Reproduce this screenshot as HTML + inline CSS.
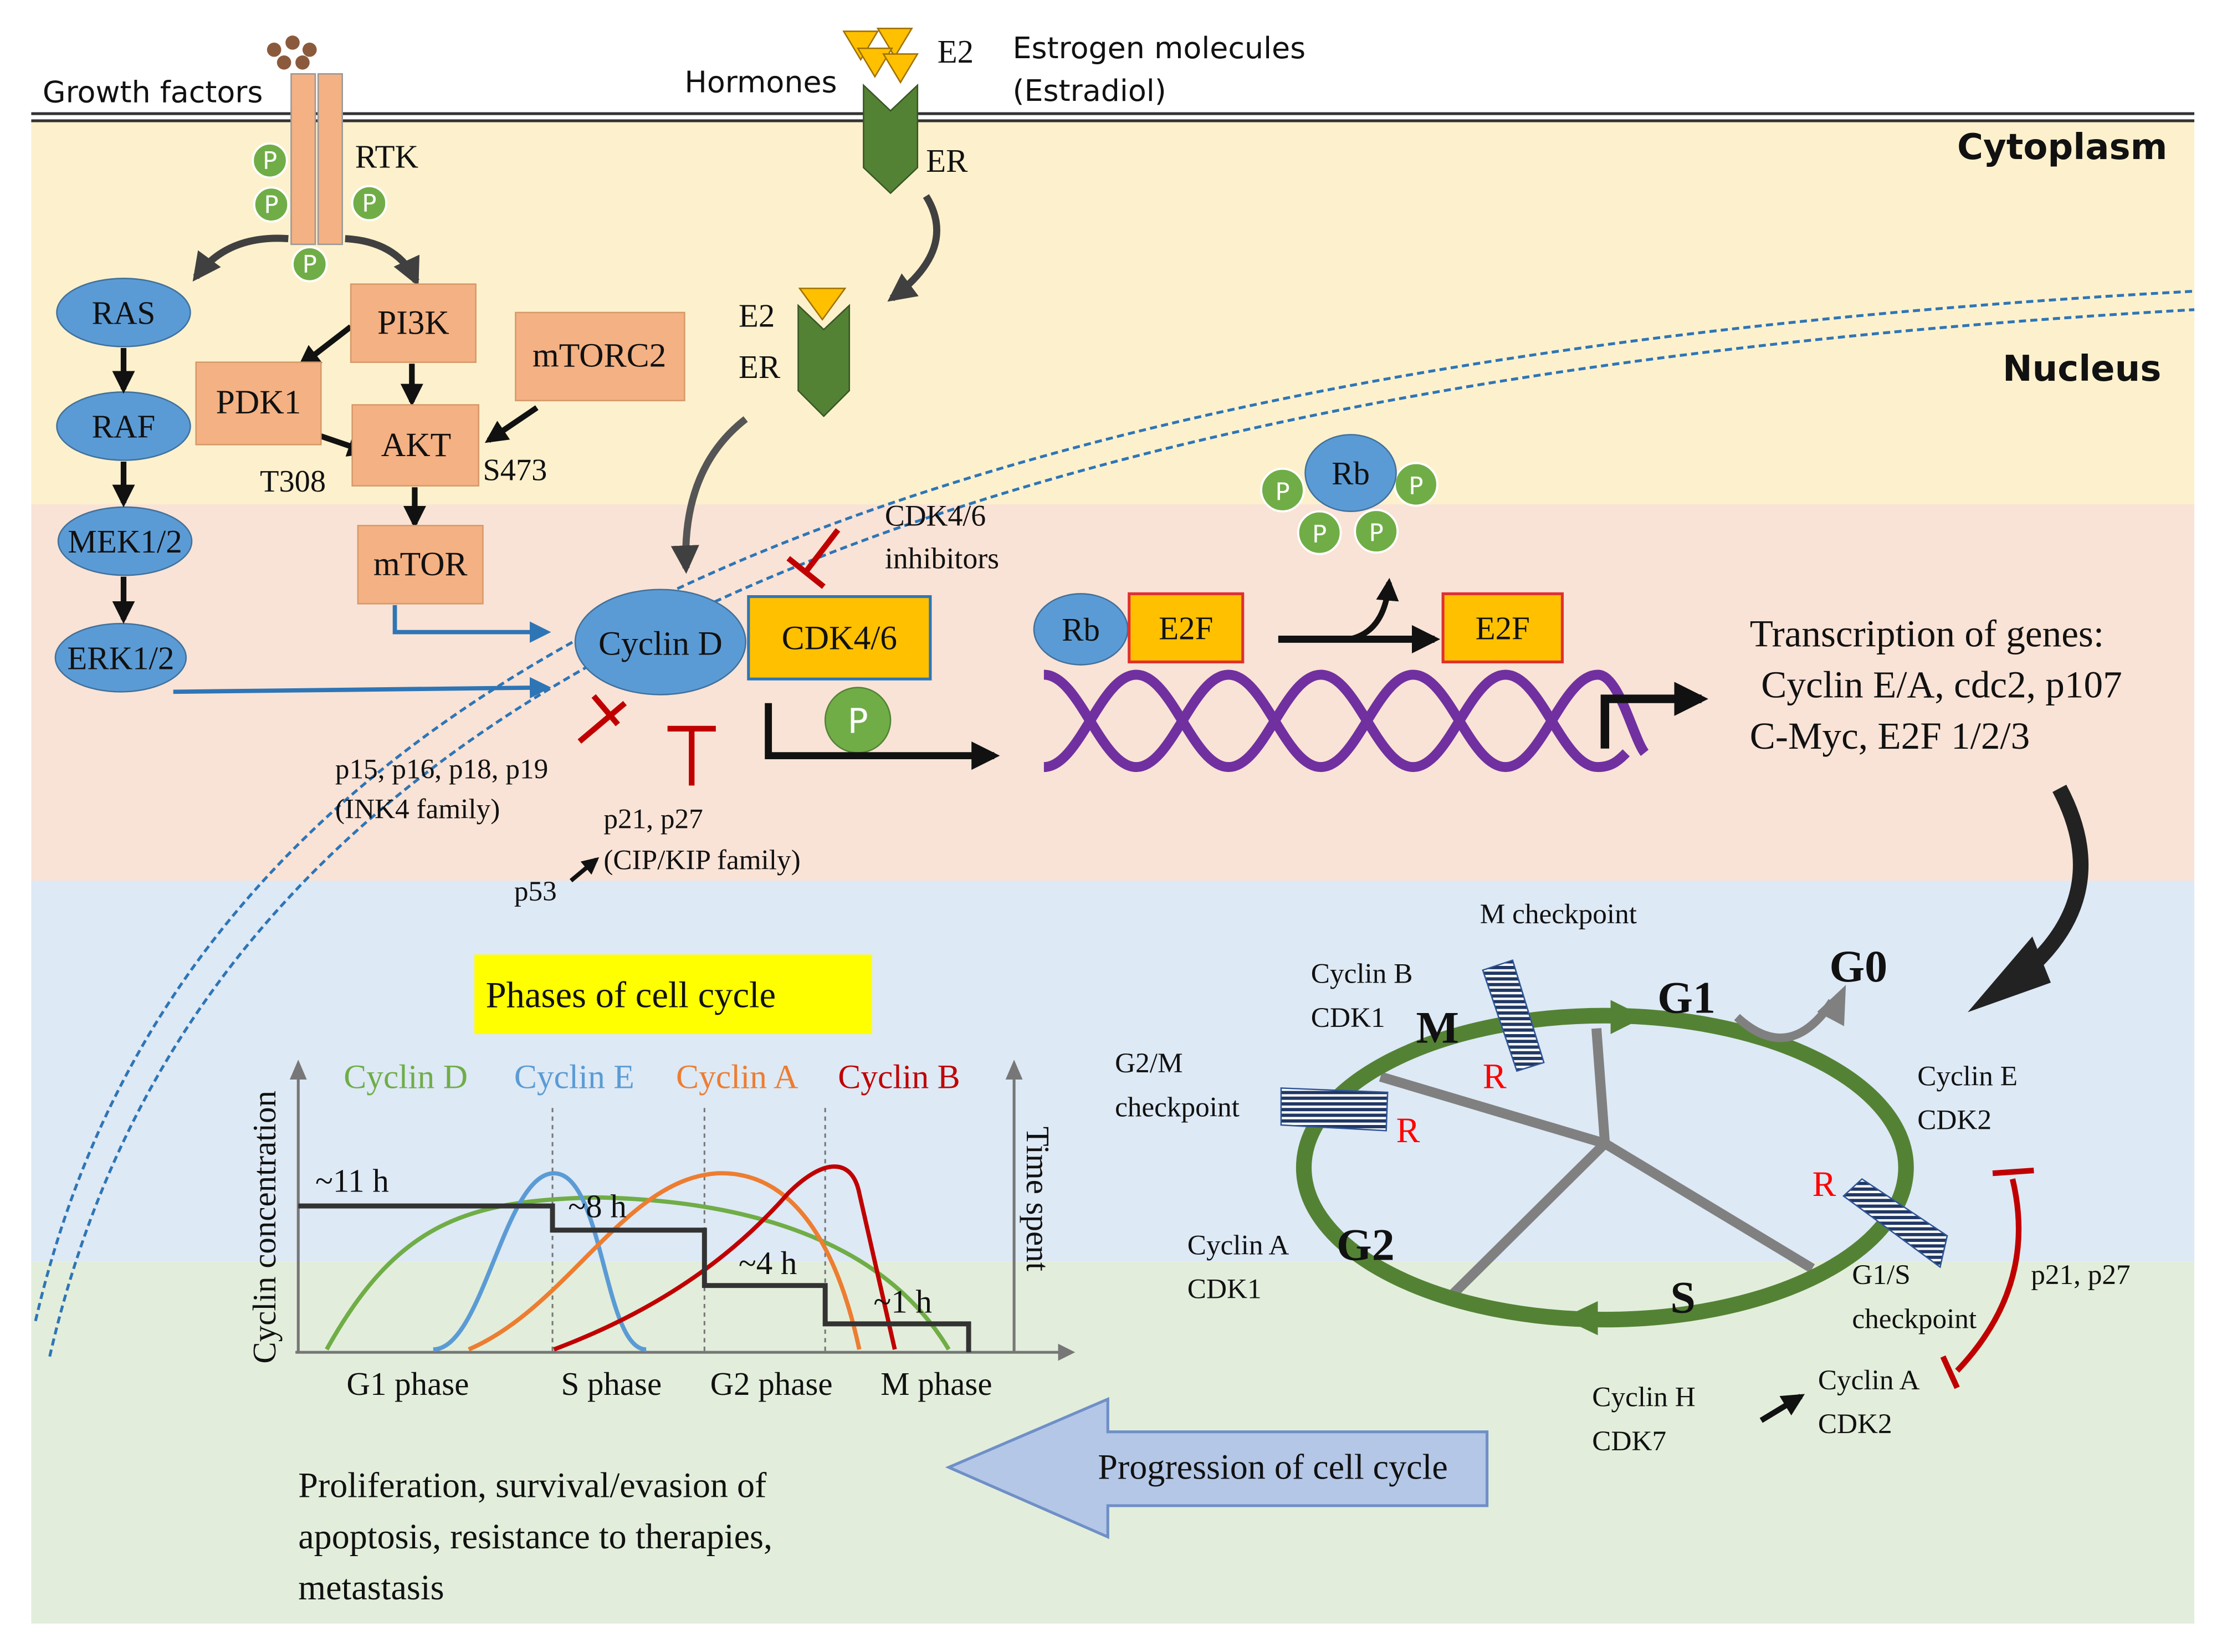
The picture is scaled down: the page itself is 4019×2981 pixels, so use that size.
<!DOCTYPE html>
<html><head><meta charset="utf-8"><style>
html,body{margin:0;padding:0;background:#fff}
svg{display:block}
.s{font-family:"Liberation Serif",serif;fill:#111}
.a{font-family:"DejaVu Sans","Liberation Sans",sans-serif;fill:#111}
</style></head><body>
<svg width="4019" height="2981" viewBox="0 0 1568 1163" xmlns="http://www.w3.org/2000/svg">
<defs>
<marker id="ab" viewBox="0 0 10 10" refX="8" refY="5" markerWidth="4" markerHeight="4" orient="auto"><path d="M0,0L10,5L0,10z" fill="#111"/></marker>
<marker id="ag" viewBox="0 0 10 10" refX="8" refY="5" markerWidth="4" markerHeight="4" orient="auto"><path d="M0,0L10,5L0,10z" fill="#404040"/></marker>
<marker id="ablu" viewBox="0 0 10 10" refX="8" refY="5" markerWidth="5" markerHeight="5" orient="auto"><path d="M0,0L10,5L0,10z" fill="#2e75b6"/></marker>
<pattern id="hat" width="6" height="4" patternUnits="userSpaceOnUse"><rect width="6" height="4" fill="#fff"/><rect width="6" height="2.3" fill="#203864"/></pattern>
</defs>
<rect x="22" y="86" width="1523" height="270" fill="#fdf1cd"/>
<rect x="22" y="355" width="1523" height="266" fill="#f9e3d6"/>
<rect x="22" y="620" width="1523" height="268" fill="#dde9f5"/>
<rect x="22" y="888" width="1523" height="255" fill="#e2eedb"/>
<line x1="22" y1="80" x2="1545" y2="80" stroke="#333" stroke-width="2"/>
<line x1="22" y1="85" x2="1545" y2="85" stroke="#333" stroke-width="2"/>
<!-- nucleus dashed -->
<path d="M25,930 C120,520 520,260 1545,205" fill="none" stroke="#2e75b6" stroke-width="2" stroke-dasharray="5,3"/>
<path d="M35,955 C130,540 530,275 1545,218" fill="none" stroke="#2e75b6" stroke-width="2" stroke-dasharray="5,3"/>
<!-- growth factors -->
<g fill="#8b5a3c"><circle cx="193" cy="35" r="5"/><circle cx="206" cy="30" r="5"/><circle cx="218" cy="35" r="5"/><circle cx="200" cy="44" r="5"/><circle cx="213" cy="44" r="5"/></g>
<text x="30" y="72" class="a" font-size="21">Growth factors</text>
<rect x="205" y="52" width="17" height="120" fill="#f4b183" stroke="#999"/>
<rect x="224" y="52" width="17" height="120" fill="#f4b183" stroke="#999"/>
<text x="250" y="118" class="s" font-size="23">RTK</text>
<g fill="#70ad47" stroke="#fff" stroke-width="1.5"><circle cx="190" cy="113" r="12"/><circle cx="191" cy="144" r="12"/><circle cx="260" cy="143" r="12"/><circle cx="218" cy="186" r="12"/><circle cx="903" cy="345" r="15"/><circle cx="997" cy="341" r="15"/><circle cx="929" cy="375" r="15"/><circle cx="969" cy="374" r="15"/></g>
<g class="a" font-size="17" fill="#fff" text-anchor="middle" style="fill:#fff"><text x="190" y="119" style="fill:#fff">P</text><text x="191" y="150" style="fill:#fff">P</text><text x="260" y="149" style="fill:#fff">P</text><text x="218" y="192" style="fill:#fff">P</text><text x="903" y="352" style="fill:#fff">P</text><text x="997" y="348" style="fill:#fff">P</text><text x="929" y="382" style="fill:#fff">P</text><text x="969" y="381" style="fill:#fff">P</text></g>
<path d="M203,168 Q160,165 138,195" fill="none" stroke="#404040" stroke-width="5" marker-end="url(#ag)"/>
<path d="M243,168 Q280,170 293,198" fill="none" stroke="#404040" stroke-width="5" marker-end="url(#ag)"/>
<!-- MAPK -->
<g fill="#5b9bd5" stroke="#41719c"><ellipse cx="87" cy="220" rx="47" ry="24"/><ellipse cx="87" cy="300" rx="47" ry="24"/><ellipse cx="88" cy="381" rx="47" ry="24"/><ellipse cx="85" cy="463" rx="46" ry="24"/></g>
<g class="s" font-size="23" text-anchor="middle"><text x="87" y="228">RAS</text><text x="87" y="308">RAF</text><text x="88" y="389">MEK1/2</text><text x="85" y="471">ERK1/2</text></g>
<g stroke="#111" stroke-width="4" marker-end="url(#ab)"><line x1="87" y1="245" x2="87" y2="274"/><line x1="87" y1="325" x2="87" y2="354"/><line x1="87" y1="406" x2="87" y2="436"/><line x1="290" y1="256" x2="290" y2="283"/><line x1="292" y1="343" x2="292" y2="369"/><line x1="247" y1="230" x2="212" y2="257"/><line x1="220" y1="305" x2="258" y2="318"/><line x1="378" y1="287" x2="344" y2="310"/></g>
<g fill="#f4b183" stroke="#d69a6a"><rect x="247" y="200" width="88" height="55"/><rect x="138" y="255" width="88" height="58"/><rect x="248" y="285" width="89" height="57"/><rect x="363" y="220" width="119" height="62"/><rect x="252" y="370" width="88" height="55"/></g>
<g class="s" font-size="24" text-anchor="middle"><text x="291" y="235">PI3K</text><text x="182" y="291">PDK1</text><text x="293" y="321">AKT</text><text x="422" y="258">mTORC2</text><text x="296" y="405">mTOR</text></g>
<text x="183" y="346" class="s" font-size="22">T308</text><text x="340" y="338" class="s" font-size="22">S473</text>
<!-- hormones -->
<text x="482" y="65" class="a" font-size="21">Hormones</text>
<g fill="#ffc000" stroke="#a07000" stroke-width="1"><path d="M594,22h24l-12,20z"/><path d="M618,20h24l-12,20z"/><path d="M604,34h24l-12,20z"/><path d="M622,38h24l-12,20z"/><path d="M563,203h32l-16,22z"/></g>
<text x="660" y="44" class="s" font-size="23">E2</text>
<text x="713" y="41" class="a" font-size="21">Estrogen molecules</text><text x="713" y="71" class="a" font-size="21">(Estradiol)</text>
<path d="M608,60 L627,78 L646,60 L646,118 L627,136 L608,118z" fill="#548235" stroke="#385723"/>
<path d="M562,215 L580,232 L598,215 L598,275 L580,293 L562,275z" fill="#548235" stroke="#385723"/>
<text x="652" y="121" class="s" font-size="23">ER</text>
<text x="520" y="230" class="s" font-size="23">E2</text><text x="520" y="266" class="s" font-size="23">ER</text>
<path d="M652,138 Q675,175 628,210" fill="none" stroke="#404040" stroke-width="5" marker-end="url(#ag)"/>
<path d="M525,295 Q480,330 483,400" fill="none" stroke="#555" stroke-width="5" marker-end="url(#ag)"/>
<text x="1378" y="112" class="a" font-size="25" font-weight="bold">Cytoplasm</text>
<text x="1410" y="268" class="a" font-size="25" font-weight="bold">Nucleus</text>
<!-- Cyclin D -->
<ellipse cx="465" cy="452" rx="60" ry="37" fill="#5b9bd5" stroke="#41719c"/>
<text x="465" y="461" class="s" font-size="24" text-anchor="middle">Cyclin D</text>
<rect x="527" y="420" width="128" height="58" fill="#ffc000" stroke="#2e75b6" stroke-width="2"/>
<text x="591" y="457" class="s" font-size="24" text-anchor="middle">CDK4/6</text>
<text x="623" y="370" class="s" font-size="21">CDK4/6</text><text x="623" y="400" class="s" font-size="21">inhibitors</text>
<g stroke="#c00000" stroke-width="4" fill="none"><line x1="590" y1="373" x2="567" y2="403"/><line x1="555" y1="393" x2="580" y2="413"/><line x1="440" y1="495" x2="408" y2="522"/><line x1="418" y1="490" x2="435" y2="510"/><line x1="487" y1="515" x2="487" y2="553"/><line x1="470" y1="513" x2="504" y2="513"/></g>
<text x="236" y="548" class="s" font-size="20">p15, p16, p18, p19</text><text x="236" y="576" class="s" font-size="20">(INK4 family)</text>
<text x="425" y="583" class="s" font-size="20">p21, p27</text><text x="425" y="612" class="s" font-size="20">(CIP/KIP family)</text>
<text x="362" y="634" class="s" font-size="20">p53</text>
<line x1="402" y1="620" x2="420" y2="605" stroke="#111" stroke-width="3" marker-end="url(#ab)"/>
<path d="M278,426 V445 H385" fill="none" stroke="#2e75b6" stroke-width="3" marker-end="url(#ablu)"/>
<line x1="122" y1="487" x2="385" y2="484" stroke="#2e75b6" stroke-width="3" marker-end="url(#ablu)"/>
<circle cx="604" cy="507" r="23" fill="#70ad47" stroke="#548235"/>
<text x="604" y="516" class="a" font-size="24" text-anchor="middle" style="fill:#fff">P</text>
<path d="M541,495 V532 H700" fill="none" stroke="#111" stroke-width="5" marker-end="url(#ab)"/>
<!-- Rb -->
<ellipse cx="761" cy="443" rx="33" ry="25" fill="#5b9bd5" stroke="#41719c"/>
<text x="761" y="451" class="s" font-size="23" text-anchor="middle">Rb</text>
<rect x="795" y="418" width="80" height="48" fill="#ffc000" stroke="#e03030" stroke-width="2"/>
<text x="835" y="450" class="s" font-size="23" text-anchor="middle">E2F</text>
<rect x="1016" y="418" width="84" height="48" fill="#ffc000" stroke="#e03030" stroke-width="2"/>
<text x="1058" y="450" class="s" font-size="23" text-anchor="middle">E2F</text>
<ellipse cx="951" cy="333" rx="32" ry="27" fill="#5b9bd5" stroke="#41719c"/>
<text x="951" y="341" class="s" font-size="23" text-anchor="middle">Rb</text>
<line x1="900" y1="450" x2="1010" y2="450" stroke="#111" stroke-width="5" marker-end="url(#ab)"/>
<path d="M950,450 Q975,445 978,410" fill="none" stroke="#111" stroke-width="4" marker-end="url(#ab)"/>
<!-- DNA -->
<path d="M735,475 C760,475 775,540 800,540 C825,540 840,475 865,475 C890,475 905,540 930,540 C955,540 970,475 995,475 C1020,475 1035,540 1060,540 C1085,540 1100,475 1125,475 C1140,475 1150,520 1158,530" fill="none" stroke="#7030a0" stroke-width="7"/>
<path d="M735,540 C760,540 775,475 800,475 C825,475 840,540 865,540 C890,540 905,475 930,475 C955,475 970,540 995,540 C1020,540 1035,475 1060,475 C1085,475 1100,540 1125,540 C1135,540 1140,535 1145,530" fill="none" stroke="#7030a0" stroke-width="7"/>
<path d="M1130,527 V492 H1198" fill="none" stroke="#111" stroke-width="6" marker-end="url(#ab)"/>
<text x="1232" y="455" class="s" font-size="27">Transcription of genes:</text>
<text x="1240" y="491" class="s" font-size="27">Cyclin E/A, cdc2, p107</text>
<text x="1232" y="527" class="s" font-size="27">C-Myc, E2F 1/2/3</text>
<path d="M1450,555 Q1495,640 1405,700" fill="none" stroke="#222" stroke-width="11"/>
<path d="M1395,706 L1430,665 L1440,690z" fill="#222" stroke="#222" stroke-width="6"/>
<!-- cell cycle -->
<g stroke="#808080" stroke-width="7"><line x1="1130" y1="805" x2="1124" y2="724"/><line x1="1130" y1="805" x2="972" y2="758"/><line x1="1130" y1="805" x2="1022" y2="912"/><line x1="1130" y1="805" x2="1276" y2="893"/></g>
<ellipse cx="1130" cy="822" rx="212" ry="107" fill="none" stroke="#548235" stroke-width="11"/>
<path d="M1134,704 L1158,716 L1134,728z" fill="#548235"/>
<path d="M1125,916 L1100,928 L1125,940z" fill="#548235"/>
<path d="M1223,716 Q1260,750 1290,705" fill="none" stroke="#808080" stroke-width="6"/>
<path d="M1282,712 L1298,697 L1297,720z" fill="#808080" stroke="#808080" stroke-width="3"/>
<g class="s" font-weight="bold" font-size="32"><text x="1167" y="713">G1</text><text x="1288" y="691">G0</text><text x="997" y="734">M</text><text x="941" y="887">G2</text><text x="1176" y="924">S</text></g>
<g fill="url(#hat)" stroke="#2e5597" stroke-width="1"><path d="M1044,683 L1065,676 L1087,748 L1068,754z"/><path d="M902,766 L977,769 L976,796 L902,792z"/><path d="M1298,842 L1311,830 L1371,870 L1366,892z"/></g>
<g class="s" font-size="25" fill="#ff0000" style="fill:#f00"><text x="1044" y="766" style="fill:#f00">R</text><text x="983" y="804" style="fill:#f00">R</text><text x="1276" y="842" style="fill:#f00">R</text></g>
<g class="s" font-size="20"><text x="1042" y="650">M checkpoint</text><text x="923" y="692">Cyclin B</text><text x="923" y="723">CDK1</text><text x="785" y="755">G2/M</text><text x="785" y="786">checkpoint</text><text x="1350" y="764">Cyclin E</text><text x="1350" y="795">CDK2</text><text x="836" y="883">Cyclin A</text><text x="836" y="914">CDK1</text><text x="1304" y="904">G1/S</text><text x="1304" y="935">checkpoint</text><text x="1430" y="904">p21, p27</text><text x="1121" y="990">Cyclin H</text><text x="1121" y="1021">CDK7</text><text x="1280" y="978">Cyclin A</text><text x="1280" y="1009">CDK2</text></g>
<g stroke="#c00000" stroke-width="4" fill="none"><path d="M1417,830 Q1435,905 1378,965"/><line x1="1403" y1="826" x2="1432" y2="824"/><line x1="1368" y1="955" x2="1378" y2="977"/></g>
<line x1="1240" y1="1000" x2="1268" y2="983" stroke="#111" stroke-width="4" marker-end="url(#ab)"/>
<!-- graph -->
<rect x="334" y="672" width="280" height="56" fill="#ffff00"/>
<text x="342" y="709" class="s" font-size="26">Phases of cell cycle</text>
<text x="242" y="766" class="s" font-size="24" style="fill:#70ad47">Cyclin D</text>
<text x="362" y="766" class="s" font-size="24" style="fill:#5b9bd5">Cyclin E</text>
<text x="476" y="766" class="s" font-size="24" style="fill:#ed7d31">Cyclin A</text>
<text x="590" y="766" class="s" font-size="24" style="fill:#c00000">Cyclin B</text>
<text transform="translate(194,960) rotate(-90)" class="s" font-size="23">Cyclin concentration</text>
<text transform="translate(723,793) rotate(90)" class="s" font-size="23">Time spent</text>
<g stroke="#777" stroke-width="2"><line x1="210" y1="952" x2="210" y2="752"/><line x1="714" y1="952" x2="714" y2="752"/><line x1="208" y1="952" x2="750" y2="952"/></g>
<path d="M204,760 L210,746 L216,760z M708,760 L714,746 L720,760z M745,946 L757,952 L745,958z" fill="#777"/>
<g stroke="#777" stroke-dasharray="3,3" stroke-width="1.2"><line x1="389" y1="780" x2="389" y2="952"/><line x1="496" y1="780" x2="496" y2="952"/><line x1="581" y1="780" x2="581" y2="952"/></g>
<path d="M230,950 C280,860 330,845 420,843 C520,845 620,870 668,950" fill="none" stroke="#70ad47" stroke-width="3"/>
<path d="M305,950 C340,950 355,826 390,826 C425,826 425,950 455,950" fill="none" stroke="#5b9bd5" stroke-width="3"/>
<path d="M330,950 C400,920 440,830 505,826 C560,824 590,880 605,950" fill="none" stroke="#ed7d31" stroke-width="3"/>
<path d="M390,950 C470,920 520,880 555,840 C580,815 600,815 605,840 L630,950" fill="none" stroke="#c00000" stroke-width="3"/>
<path d="M210,849 H389 V866 H496 V905 H581 V932 H682 V952" fill="none" stroke="#333" stroke-width="3.5"/>
<g class="s" font-size="23"><text x="222" y="839">~11 h</text><text x="400" y="857">~8 h</text><text x="520" y="897">~4 h</text><text x="615" y="924">~1 h</text><text x="244" y="982">G1 phase</text><text x="395" y="982">S phase</text><text x="500" y="982">G2 phase</text><text x="620" y="982">M phase</text></g>
<path d="M668,1033 L780,985 L780,1008 L1047,1008 L1047,1060 L780,1060 L780,1082z" fill="#b4c7e7" stroke="#6f8fc7" stroke-width="2"/>
<text x="773" y="1041" class="s" font-size="25">Progression of cell cycle</text>
<g class="s" font-size="25"><text x="210" y="1054">Proliferation, survival/evasion of</text><text x="210" y="1090">apoptosis, resistance to therapies,</text><text x="210" y="1126">metastasis</text></g>
</svg>
</body></html>
